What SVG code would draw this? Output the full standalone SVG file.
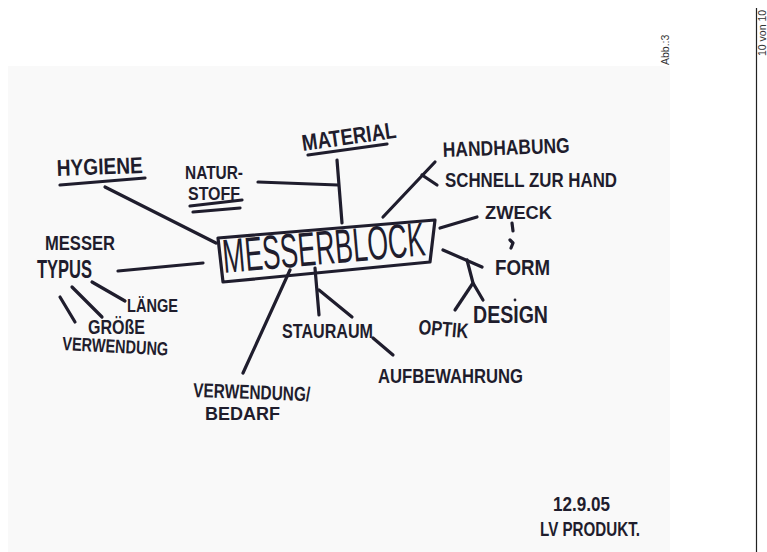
<svg xmlns="http://www.w3.org/2000/svg" width="767" height="552" viewBox="0 0 767 552">
<style>
.ink{fill:none;stroke:#1f1d2d;stroke-width:3.2;stroke-linecap:round;stroke-linejoin:round}
.t{font-family:"Liberation Sans","DejaVu Sans",sans-serif;font-weight:bold;fill:#1f1d2d}
.main{font-family:"Liberation Sans","DejaVu Sans",sans-serif;font-weight:normal;fill:#1f1d2d}
.meta{font-family:"Liberation Sans",Arial,sans-serif;font-size:10.5px;fill:#333}
</style>
<rect width="767" height="552" fill="#ffffff"/>
<rect x="8" y="66" width="662" height="486" fill="#f9f9f9"/>
<line x1="756.5" y1="8" x2="756.5" y2="552" stroke="#222" stroke-width="1.2"/>
<text class="meta" transform="translate(669,65) rotate(-90)">Abb.:3</text>
<text class="meta" transform="translate(766,56) rotate(-90)">10 von 10</text>

<g id="connectors">
<line class="ink" x1="337" y1="160" x2="342" y2="223"/>
<line class="ink" x1="258" y1="182" x2="338" y2="185"/>
<line class="ink" x1="105" y1="187" x2="216" y2="243"/>
<line class="ink" x1="383" y1="217" x2="435" y2="162"/>
<line class="ink" x1="422" y1="175" x2="437" y2="185"/>
<line class="ink" x1="440" y1="228" x2="477" y2="217"/>
<line class="ink" x1="512" y1="223" x2="513" y2="231"/>
<path class="ink" d="M510 240 L513 243 L511 248"/>
<line class="ink" x1="443" y1="250" x2="482" y2="267"/>
<polyline class="ink" points="467,260 473,283 483,300"/>
<line class="ink" x1="473" y1="283" x2="455" y2="310"/>
<circle cx="515" cy="300" r="1.4" fill="#1f1d2d"/>
<line class="ink" x1="315" y1="268" x2="319" y2="315"/>
<line class="ink" x1="319" y1="290" x2="352" y2="317"/>
<line class="ink" x1="373" y1="338" x2="393" y2="355"/>
<line class="ink" x1="290" y1="270" x2="243" y2="373"/>
<line class="ink" x1="118" y1="271" x2="203" y2="263"/>
<line class="ink" x1="92" y1="282" x2="125" y2="301"/>
<line class="ink" x1="72" y1="287" x2="102" y2="317"/>
<line class="ink" x1="60" y1="297" x2="75" y2="322"/>
</g>

<g id="messerblock">
<polygon class="ink" points="218,238 435,220 430,262 223,282"/>
<text class="main" x="224" y="273" font-size="48" textLength="203" lengthAdjust="spacingAndGlyphs" transform="rotate(-5 224 273)">MESSERBLOCK</text>
</g>
<g id="material">
<text class="t" x="303" y="151" font-size="23" textLength="95" lengthAdjust="spacingAndGlyphs" transform="rotate(-8 303 151)">MATERIAL</text>
<line class="ink" x1="308" y1="155" x2="387" y2="144"/>
</g>
<g id="naturstoff">
<text class="t" x="185" y="179" font-size="18" textLength="58" lengthAdjust="spacingAndGlyphs">NATUR-</text>
<text class="t" x="188" y="200" font-size="18" textLength="52" lengthAdjust="spacingAndGlyphs">STOFF</text>
<line class="ink" x1="190" y1="206" x2="242" y2="200"/>
<line class="ink" x1="193" y1="212" x2="240" y2="208"/>
</g>
<g id="hygiene">
<text class="t" x="57" y="176" font-size="23" textLength="86" lengthAdjust="spacingAndGlyphs" transform="rotate(-2 57 176)">HYGIENE</text>
<line class="ink" x1="60" y1="185" x2="145" y2="178"/>
</g>
<g id="handhabung">
<text class="t" x="443" y="157" font-size="21" textLength="127" lengthAdjust="spacingAndGlyphs" transform="rotate(-2 443 157)">HANDHABUNG</text>
<text class="t" x="445" y="187" font-size="20" textLength="172" lengthAdjust="spacingAndGlyphs">SCHNELL ZUR HAND</text>
</g>
<g id="zweck">
<text class="t" x="485" y="219" font-size="19" textLength="67" lengthAdjust="spacingAndGlyphs">ZWECK</text>
</g>
<g id="form">
<text class="t" x="495" y="275" font-size="22" textLength="55" lengthAdjust="spacingAndGlyphs">FORM</text>
</g>
<g id="design">
<text class="t" x="473" y="323" font-size="24" textLength="75" lengthAdjust="spacingAndGlyphs">DESIGN</text>
</g>
<g id="optik">
<text class="t" x="418" y="334" font-size="21" textLength="50" lengthAdjust="spacingAndGlyphs" transform="rotate(5 418 334)">OPTIK</text>
</g>
<g id="stauraum">
<text class="t" x="282" y="338" font-size="21" textLength="91" lengthAdjust="spacingAndGlyphs">STAURAUM</text>
</g>
<g id="aufbewahrung">
<text class="t" x="378" y="383" font-size="21" textLength="145" lengthAdjust="spacingAndGlyphs">AUFBEWAHRUNG</text>
</g>
<g id="verwendung-bedarf">
<text class="t" x="193" y="397" font-size="20" textLength="117" lengthAdjust="spacingAndGlyphs" transform="rotate(2 193 397)">VERWENDUNG/</text>
<text class="t" x="205" y="420" font-size="19" textLength="75" lengthAdjust="spacingAndGlyphs">BEDARF</text>
</g>
<g id="messertypus">
<text class="t" x="45" y="250" font-size="20" textLength="70" lengthAdjust="spacingAndGlyphs">MESSER</text>
<text class="t" x="37" y="278" font-size="26" textLength="55" lengthAdjust="spacingAndGlyphs">TYPUS</text>
</g>
<g id="laenge">
<text class="t" x="127" y="312" font-size="19" textLength="51" lengthAdjust="spacingAndGlyphs">LÄNGE</text>
</g>
<g id="groesse">
<text class="t" x="88" y="334" font-size="20" textLength="57" lengthAdjust="spacingAndGlyphs">GRÖßE</text>
</g>
<g id="verwendung">
<text class="t" x="62" y="350" font-size="19" textLength="106" lengthAdjust="spacingAndGlyphs" transform="rotate(3 62 350)">VERWENDUNG</text>
</g>
<g id="signature">
<text class="t" x="553" y="511" font-size="21" textLength="57" lengthAdjust="spacingAndGlyphs">12.9.05</text>
<text class="t" x="540" y="536" font-size="21" textLength="100" lengthAdjust="spacingAndGlyphs">LV PRODUKT.</text>
</g>
</svg>
